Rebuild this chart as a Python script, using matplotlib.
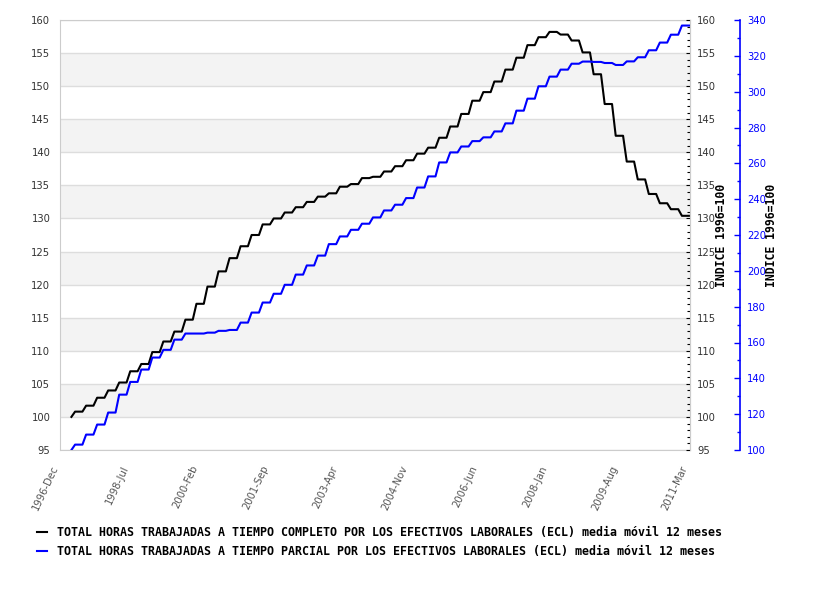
import matplotlib
matplotlib.use('Agg')
import matplotlib.pyplot as plt
from matplotlib.ticker import MultipleLocator
import numpy as np
import pandas as pd

# monthly category axis, 1996-Dec .. 2011-Mar
months = pd.period_range('1996-12', '2011-03', freq='M').strftime('%Y-%b').tolist()
label_every = 19

# index values: first is 1997-Mar, then one per quarter (Apr-Jun 1997 ... Jan-Mar 2011)
completo = [100.0, 100.8, 101.7, 102.9, 104.0, 105.2, 106.9, 108.0, 109.8, 111.4,
            112.9, 114.7, 117.1, 119.7, 122.0, 124.0, 125.8, 127.5, 129.1, 130.0,
            130.9, 131.7, 132.5, 133.3, 133.8, 134.8, 135.2, 136.1, 136.3, 137.1,
            137.9, 138.8, 139.8, 140.7, 142.2, 143.9, 145.8, 147.8, 149.1, 150.7,
            152.5, 154.3, 156.2, 157.4, 158.2, 157.8, 156.9, 155.1, 151.8, 147.3,
            142.5, 138.6, 135.9, 133.7, 132.3, 131.4, 130.4]
parcial = [100.0, 103.0, 108.6, 114.2, 120.9, 130.9, 138.0, 144.9, 151.6, 155.9,
           161.6, 165.0, 165.0, 165.5, 166.5, 167.0, 171.1, 176.7, 182.3, 187.2,
           192.2, 197.9, 203.0, 208.5, 214.9, 219.2, 222.9, 226.3, 229.8, 233.7,
           236.9, 240.6, 246.5, 252.7, 260.5, 266.1, 269.4, 272.4, 274.5, 277.8,
           282.3, 289.4, 296.1, 303.0, 308.4, 312.3, 315.6, 316.8, 316.6, 316.0,
           314.9, 316.9, 319.2, 323.1, 327.4, 331.8, 336.9]

label_completo = 'TOTAL HORAS TRABAJADAS A TIEMPO COMPLETO POR LOS EFECTIVOS LABORALES (ECL) media móvil 12 meses'
label_parcial = 'TOTAL HORAS TRABAJADAS A TIEMPO PARCIAL POR LOS EFECTIVOS LABORALES (ECL) media móvil 12 meses'
ylabel = 'INDICE 1996=100'


def monthly(q):
    # each quarterly figure is held for its three months; nothing before 1997-Mar
    return np.r_[[np.nan] * 3, q[0], np.repeat(q[1:], 3)]


x = np.arange(len(months))
mono = dict(family='DejaVu Sans Mono', weight='bold', size=8.3)

fig = plt.figure(figsize=(8.26, 6.0), dpi=100)
ax = fig.add_axes([60 / 826, 150 / 600, 630 / 826, 430 / 600])

# alternating bands + grid
for lo in range(100, 155, 10):
    ax.axhspan(lo, lo + 5, color='#f3f3f3', zorder=0, lw=0)
ax.yaxis.grid(True, color='#dddddd', lw=1)
ax.set_axisbelow(True)

l1, = ax.plot(x, monthly(completo), color='black', lw=1.5, label=label_completo)
ax.set_xlim(-0.1, 171.2)
ax.set_ylim(95, 160)
ax.set_yticks(range(95, 161, 5))
ax.tick_params(axis='y', length=0, pad=7, labelcolor='#333333', labelsize=7.2)
ax.set_xticks(x[::label_every])
ax.set_xticklabels(months[::label_every], rotation=65, ha='right',
                   color='#555555', fontsize=7.2)
ax.tick_params(axis='x', length=0, pad=10)
for s in ax.spines.values():
    s.set_color('#cccccc')

# right-hand copy of the left scale
ax2 = ax.twinx()
ax2.set_ylim(95, 160)
ax2.yaxis.set_major_locator(MultipleLocator(5))
ax2.yaxis.set_minor_locator(MultipleLocator(1))
ax2.tick_params(axis='y', which='both', direction='in', color='black', width=0.8,
                labelcolor='#333333', labelsize=7.2, pad=5)
ax2.tick_params(axis='y', which='major', length=3)
ax2.tick_params(axis='y', which='minor', length=2.2)
for name, s in ax2.spines.items():
    s.set_visible(name == 'right')
ax2.spines['right'].set_color('#cccccc')

# blue scale for part-time series
ax3 = ax.twinx()
ax3.spines['right'].set_position(('axes', 1.0794))
l2, = ax3.plot(x, monthly(parcial), color='#0000ff', lw=1.5, label=label_parcial)
ax3.set_ylim(100, 340)
ax3.yaxis.set_major_locator(MultipleLocator(20))
ax3.yaxis.set_minor_locator(MultipleLocator(10))
ax3.tick_params(axis='y', which='both', direction='in', color='#0000ff', width=1,
                labelcolor='#0000ff', labelsize=7.2, pad=5)
ax3.tick_params(axis='y', which='major', length=4)
ax3.tick_params(axis='y', which='minor', length=2.5)
for name, s in ax3.spines.items():
    s.set_visible(name == 'right')
ax3.spines['right'].set_color('#0000ff')
ax3.spines['right'].set_linewidth(1.2)

fig.text(721.5 / 826, 1 - 235 / 600, ylabel, rotation=90, ha='center', va='center', **mono)
fig.text(771.5 / 826, 1 - 235 / 600, ylabel, rotation=90, ha='center', va='center', **mono)

fig.legend(handles=[l1, l2], loc='upper left',
           bbox_to_anchor=(37 / 826, 1 - 526 / 600), frameon=False,
           prop=dict(mono, size=8.37), handlelength=0.85, handletextpad=0.85,
           labelspacing=0.55, borderpad=0, borderaxespad=0)

fig.savefig('out.png', dpi=100)
